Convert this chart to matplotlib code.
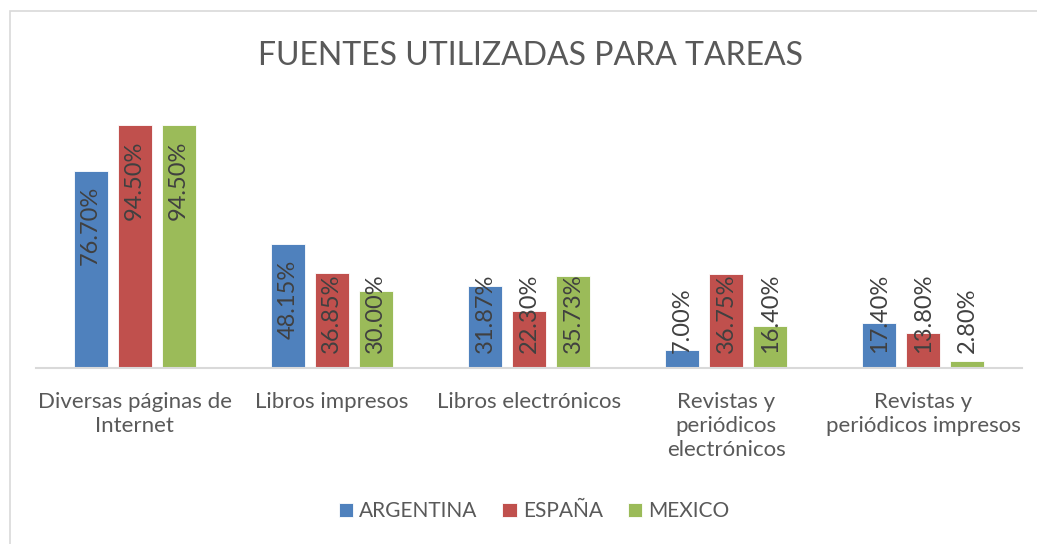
import matplotlib.pyplot as plt
from matplotlib.patches import Rectangle
import numpy as np

plt.rcParams['font.family'] = ['Lato', 'DejaVu Sans']

categories = ["Diversas páginas de\nInternet", "Libros impresos", "Libros electrónicos",
              "Revistas y\nperiódicos\nelectrónicos", "Revistas y\nperiódicos impresos"]
series_names = ["ARGENTINA", "ESPAÑA", "MEXICO"]
argentina = [76.70, 48.15, 31.87, 7.00, 17.40]
espana = [94.50, 36.85, 22.30, 36.75, 13.80]
mexico = [94.50, 30.00, 35.73, 16.40, 2.80]
colors = ["#4F81BD", "#C0504D", "#9BBB59"]

fig = plt.figure(figsize=(10.37, 5.44), dpi=100)
fig.patches.append(Rectangle((10 / 1037, -0.1), 1.2, (544 - 11) / 544 + 0.1,
                             transform=fig.transFigure, fill=False,
                             edgecolor="#D9D9D9", linewidth=1.2))
ax = fig.add_axes([36 / 1037, (544 - 368) / 544, 986 / 1037, 257 / 544])

x = np.arange(len(categories))
width = 0.173
step = 0.223
text_color = "#404040"

for i, (vals, name, c) in enumerate(zip([argentina, espana, mexico], series_names, colors)):
    xs = x + (i - 1) * step
    ax.bar(xs, vals, width=width, color=c, label=name, edgecolor="white", linewidth=0.6)
    for xi, v in zip(xs, vals):
        txt = f"{v:.2f}%"
        # labels at the inside end, pushed up from the baseline when the bar is short
        if v >= 39.5:
            ax.annotate(txt, (xi, v), xytext=(0, -11), textcoords="offset points",
                        rotation=90, ha="center", va="top", fontsize=17, color=text_color)
        else:
            ax.annotate(txt, (xi, 0), xytext=(0, 11), textcoords="offset points",
                        rotation=90, ha="center", va="bottom", fontsize=17, color=text_color)

ax.set_xlim(-0.5, len(categories) - 0.5)
ax.set_ylim(0, 100)
ax.set_yticks([])
ax.set_xticks(x)
ax.set_xticklabels(categories, fontsize=16, color="#595959", linespacing=1.25)
ax.tick_params(axis="x", length=0, pad=17)
for s in ["top", "right", "left"]:
    ax.spines[s].set_visible(False)
ax.spines["bottom"].set_color("#D9D9D9")
ax.spines["bottom"].set_linewidth(1.5)

fig.text(530 / 1037, 1 - 56 / 544, "FUENTES UTILIZADAS PARA TAREAS", ha="center", va="center",
         fontsize=23, color="#595959")

fig.legend(loc="center", bbox_to_anchor=(534 / 1037, 1 - 511 / 544), ncol=3, frameon=False,
           fontsize=15, handlelength=0.68, handleheight=0.68, handletextpad=0.3,
           columnspacing=1.2, labelcolor="#595959")

fig.savefig("out.png", dpi=100)
